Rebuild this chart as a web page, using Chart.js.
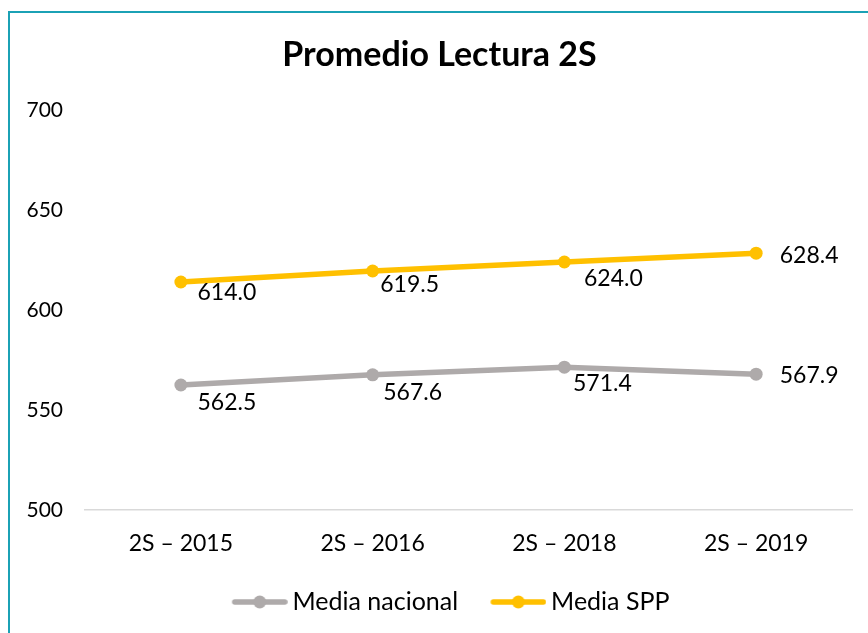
<!DOCTYPE html>
<html><head><meta charset="utf-8">
<script src="https://cdn.jsdelivr.net/npm/chart.js@4"></script>
<style>
html,body{margin:0;padding:0;background:#fff;}
#wrap{position:relative;width:868px;height:633px;overflow:hidden;background:#fff;}
#frame{position:absolute;left:8px;top:11px;width:900px;height:700px;border-top:2px solid #1ba1b5;border-left:2px solid #1ba1b5;}
canvas{position:absolute;left:0;top:0;}
</style></head><body>
<div id="wrap"><div id="frame"></div><canvas id="c" width="868" height="633"></canvas></div>
<script>
const categories = ['2S – 2015', '2S – 2016', '2S – 2018', '2S – 2019'];
const mediaNacional = [562.5, 567.6, 571.4, 567.9];
const mediaSPP = [614.0, 619.5, 624.0, 628.4];
const yTicks = [500, 550, 600, 650, 700];
const seriesNames = ['Media nacional', 'Media SPP'];
const chartTitle = 'Promedio Lectura 2S';

// data label offsets in px from each point (label centre)
const labelOffsetNacional = [[46, 18], [40, 18], [38, 16], [53, 1]];
const labelOffsetSPP = [[46, 11], [37, 14], [49, 17], [53, 2]];

const GREY = '#aeaaaa';
const GOLD = '#ffc000';
const FONT = 'Lato';

function makeMarker(color) {
  const c = document.createElement('canvas');
  c.width = 86; c.height = 16;
  const g = c.getContext('2d');
  g.strokeStyle = color; g.lineWidth = 5.5; g.lineCap = 'round';
  g.beginPath(); g.moveTo(33, 8); g.lineTo(83, 8); g.stroke();
  g.fillStyle = color;
  g.beginPath(); g.arc(58, 8, 6.5, 0, Math.PI * 2); g.fill();
  return c;
}
const markers = [makeMarker(GREY), makeMarker(GOLD)];
const offsets = [labelOffsetNacional, labelOffsetSPP];

const dataLabels = {
  id: 'dataLabels',
  afterDatasetsDraw(chart) {
    const ctx = chart.ctx;
    ctx.save();
    ctx.font = '23px ' + FONT;
    ctx.fillStyle = '#000';
    ctx.textAlign = 'center';
    ctx.textBaseline = 'middle';
    chart.data.datasets.forEach((ds, di) => {
      const meta = chart.getDatasetMeta(di);
      meta.data.forEach((pt, i) => {
        const o = offsets[di][i];
        ctx.fillText(ds.data[i].toFixed(1), pt.x + o[0], pt.y + o[1]);
      });
    });
    ctx.restore();
  }
};

new Chart(document.getElementById('c'), {
  type: 'line',
  data: {
    labels: categories,
    datasets: [
      { label: seriesNames[0], data: mediaNacional, borderColor: GREY, backgroundColor: GREY,
        borderWidth: 5.5, pointRadius: 6.5, pointBackgroundColor: GREY, pointBorderWidth: 0, tension: 0 },
      { label: seriesNames[1], data: mediaSPP, borderColor: GOLD, backgroundColor: GOLD,
        borderWidth: 5.5, pointRadius: 6.5, pointBackgroundColor: GOLD, pointBorderWidth: 0, tension: 0 }
    ]
  },
  options: {
    responsive: false,
    animation: false,
    devicePixelRatio: 1,
    layout: { padding: { left: 27, right: 16, top: 0, bottom: 8.5 } },
    plugins: {
      tooltip: { enabled: false },
      title: {
        display: true, text: chartTitle, color: '#000',
        font: { family: FONT, size: 34, weight: 'bold' },
        padding: { top: 34.6, bottom: 34.6 }
      },
      legend: {
        position: 'bottom',
        labels: {
          usePointStyle: true, pointStyleWidth: 70.5, padding: 10,
          color: '#000', font: { family: FONT, size: 25 },
          generateLabels(chart) {
            return chart.data.datasets.map((ds, i) => ({
              text: ds.label, pointStyle: markers[i], fillStyle: ds.borderColor,
              strokeStyle: ds.borderColor, lineWidth: 0, hidden: false, datasetIndex: i
            }));
          }
        }
      }
    },
    scales: {
      x: {
        offset: true,
        grid: { display: false, drawTicks: false },
        border: { display: true, color: '#d9d9d9', width: 1.5 },
        ticks: { color: '#000', font: { family: FONT, size: 23 }, padding: 20, maxRotation: 0 },
        afterFit(s) { s.height = 69.5; }
      },
      y: {
        min: 500, max: 700,
        grid: { display: false, drawTicks: false },
        border: { display: false },
        ticks: { color: '#000', font: { family: FONT, size: 21 }, padding: 22, crossAlign: 'near' },
        afterBuildTicks(s) { s.ticks = yTicks.map(v => ({ value: v })); },
        afterFit(s) { s.width = 58; }
      }
    }
  },
  plugins: [dataLabels]
});
</script>
</body></html>
